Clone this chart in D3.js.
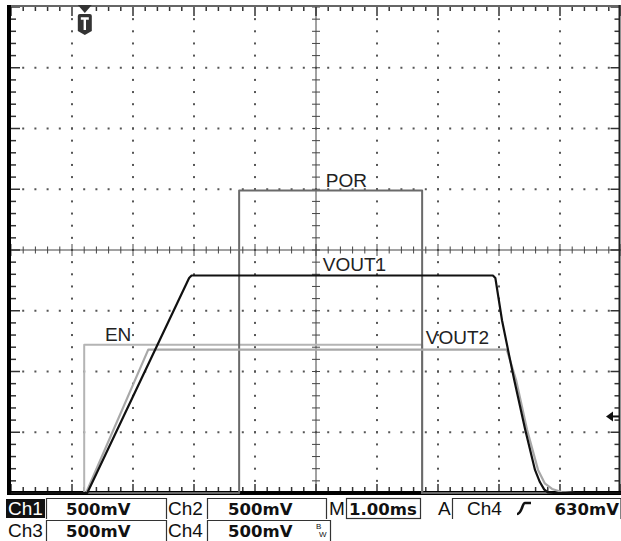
<!DOCTYPE html>
<html>
<head>
<meta charset="utf-8">
<script src="https://cdn.jsdelivr.net/npm/d3@7"></script>
<style>
  html, body { margin: 0; padding: 0; background: #fff; }
  svg { display: block; font-family: "Liberation Sans", Arial, sans-serif; }
</style>
</head>
<body>
<svg id="scope" width="621" height="541"></svg>
<script>
// Acquisition settings (horizontal: ms/div, vertical: V/div, 10 x 8 divisions)
const timePerDiv = 1.0;
const voltsPerDiv = 0.5;
const hDivs = 10;
const vDivs = 8;

// Trace samples: time in ms from left edge of screen, level in volts
const enTime    = [0, 1.20, 1.20, 6.74, 6.74, 10];
const enVolts   = [0, 0, 1.22, 1.22, 0, 0];

const porTime   = [0, 3.74, 3.74, 6.74, 6.74, 10];
const porVolts  = [0, 0, 2.49, 2.49, 0, 0];

const vout1Time  = [0, 1.25, 2.92, 2.96, 7.90, 7.94, 8.05, 8.18, 8.25, 8.43, 8.59, 8.67, 8.74, 8.80, 8.90, 10];
const vout1Volts = [0, 0, 1.77, 1.79, 1.79, 1.77, 1.42, 1.10, 0.93, 0.52, 0.19, 0.09, 0.03, 0.005, 0, 0];

const vout2Time  = [0, 1.23, 2.25, 8.12, 8.14, 8.28, 8.46, 8.64, 8.75, 8.87, 9.03, 9.25, 10];
const vout2Volts = [0, 0, 1.18, 1.18, 1.16, 0.93, 0.52, 0.19, 0.08, 0.033, 0.008, 0, 0];

// Trigger position (ms) and trigger level (V)
const triggerTime = 1.21;
const triggerLevel = 0.63;

// Status bar readouts
const chNames   = ["Ch1", "Ch2", "Ch3", "Ch4"];
const chScales  = ["500mV", "500mV", "500mV", "500mV"];
const timebase  = "1.00ms";
const trigSource = "Ch4";
const trigLevelText = "630mV";

const svg = d3.select("#scope");

const x = d3.scaleLinear().domain([0, hDivs * timePerDiv]).range([11, 621]);
const y = d3.scaleLinear().domain([0, vDivs * voltsPerDiv]).range([493, 7]);

const grid = svg.append("g");
const minorT = d3.range(0, hDivs * 5 + 1).map(i => i * timePerDiv / 5);
const minorV = d3.range(0, vDivs * 5 + 1).map(i => i * voltsPerDiv / 5);
const majorT = d3.range(0, hDivs + 1).map(i => i * timePerDiv);
const majorV = d3.range(0, vDivs + 1).map(i => i * voltsPerDiv);
const centerT = hDivs / 2 * timePerDiv;
const centerV = vDivs / 2 * voltsPerDiv;

// dotted graticule
majorT.slice(1, -1).filter(t => t !== centerT).forEach(t => {
  grid.selectAll(null).data(minorV.slice(1, -1)).enter().append("rect")
    .attr("x", x(t) - 1).attr("y", d => y(d) - 1)
    .attr("width", 2).attr("height", 2).attr("fill", "#555");
});
majorV.slice(1, -1).filter(v => v !== centerV).forEach(v => {
  grid.selectAll(null).data(minorT.slice(1, -1)).enter().append("rect")
    .attr("x", d => x(d) - 1).attr("y", y(v) - 1)
    .attr("width", 2).attr("height", 2).attr("fill", "#555");
});

// centre cross with minor ticks
grid.append("line").attr("x1", x(0)).attr("x2", x(hDivs * timePerDiv))
  .attr("y1", y(centerV)).attr("y2", y(centerV)).attr("stroke", "#444").attr("stroke-width", 1);
grid.append("line").attr("x1", x(centerT)).attr("x2", x(centerT))
  .attr("y1", y(0)).attr("y2", y(vDivs * voltsPerDiv)).attr("stroke", "#444").attr("stroke-width", 1);
grid.selectAll(null).data(minorT).enter().append("line")
  .attr("x1", d => x(d)).attr("x2", d => x(d))
  .attr("y1", d => y(centerV) - (Math.abs(d % timePerDiv) < 1e-9 ? 6 : 3.5))
  .attr("y2", d => y(centerV) + (Math.abs(d % timePerDiv) < 1e-9 ? 6 : 3.5))
  .attr("stroke", "#444").attr("stroke-width", 1);
grid.selectAll(null).data(minorV).enter().append("line")
  .attr("y1", d => y(d)).attr("y2", d => y(d))
  .attr("x1", x(centerT) - 4).attr("x2", x(centerT) + 4)
  .attr("stroke", "#444").attr("stroke-width", 1);

// edge ticks
const isMajorT = d => Math.abs(d / timePerDiv - Math.round(d / timePerDiv)) < 1e-9;
const isMajorV = d => Math.abs(d / voltsPerDiv - Math.round(d / voltsPerDiv)) < 1e-9;
grid.selectAll(null).data(minorT).enter().append("line")
  .attr("x1", d => x(d)).attr("x2", d => x(d))
  .attr("y1", y(vDivs * voltsPerDiv)).attr("y2", d => y(vDivs * voltsPerDiv) + (isMajorT(d) ? 9 : 4))
  .attr("stroke", "#333").attr("stroke-width", 1.5);
grid.selectAll(null).data(minorT).enter().append("line")
  .attr("x1", d => x(d)).attr("x2", d => x(d))
  .attr("y1", y(0)).attr("y2", d => y(0) - (isMajorT(d) ? 9 : 6))
  .attr("stroke", "#333").attr("stroke-width", 1.5);
grid.selectAll(null).data(minorV).enter().append("line")
  .attr("y1", d => y(d)).attr("y2", d => y(d))
  .attr("x1", x(0)).attr("x2", d => x(0) + (isMajorV(d) ? 9 : 5))
  .attr("stroke", "#333").attr("stroke-width", 1.5);
grid.selectAll(null).data(minorV).enter().append("line")
  .attr("y1", d => y(d)).attr("y2", d => y(d))
  .attr("x1", x(hDivs * timePerDiv) - 1.5).attr("x2", d => x(hDivs * timePerDiv) - 1.5 - (isMajorV(d) ? 9 : 5))
  .attr("stroke", "#333").attr("stroke-width", 1.5);

// screen frame
svg.append("line").attr("x1", x(0) - 2).attr("x2", x(hDivs * timePerDiv))
  .attr("y1", y(vDivs * voltsPerDiv) - 1).attr("y2", y(vDivs * voltsPerDiv) - 1)
  .attr("stroke", "#666").attr("stroke-width", 2);
svg.append("line").attr("x1", x(hDivs * timePerDiv) - 1.5).attr("x2", x(hDivs * timePerDiv) - 1.5)
  .attr("y1", y(vDivs * voltsPerDiv) - 2).attr("y2", y(0))
  .attr("stroke", "#222").attr("stroke-width", 2);
svg.append("line").attr("x1", x(0) - 2).attr("x2", x(0) - 2)
  .attr("y1", y(vDivs * voltsPerDiv) - 2).attr("y2", y(0) + 2)
  .attr("stroke", "#000").attr("stroke-width", 4);
svg.append("line").attr("x1", x(0) - 4).attr("x2", x(hDivs * timePerDiv))
  .attr("y1", y(0)).attr("y2", y(0))
  .attr("stroke", "#000").attr("stroke-width", 4);

// traces
const line = d3.line().x(d => x(d[0])).y(d => y(d[1]));
const trace = (ts, vs, color, w) =>
  svg.append("path").datum(d3.zip(ts, vs)).attr("d", line)
    .attr("fill", "none").attr("stroke", color).attr("stroke-width", w)
    .attr("stroke-linejoin", "round");
trace(enTime, enVolts, "#b4b4b4", 2);
trace(porTime, porVolts, "#6a6a6a", 2);
trace(vout2Time, vout2Volts, "#a8a8a8", 2.2);
trace(vout1Time, vout1Volts, "#111", 2.2);

// trace labels
const lbl = (t, v, s) => svg.append("text").attr("x", x(t)).attr("y", y(v))
  .attr("font-size", 19).attr("fill", "#222").text(s);
lbl(5.16, 2.52, "POR");
lbl(5.11, 1.83, "VOUT1");
lbl(1.54, 1.25, "EN");
lbl(6.80, 1.225, "VOUT2");

// trigger position marker
const tx = x(triggerTime);
svg.append("path")
  .attr("d", `M${tx - 7},${y(4) - 2} L${tx + 7},${y(4) - 2} L${tx},${y(4) + 6} Z`)
  .attr("fill", "#333");
svg.append("path")
  .attr("d", `M${tx - 7},${y(4) + 9} Q${tx - 7},${y(4) + 7} ${tx - 5},${y(4) + 7} L${tx + 5},${y(4) + 7} Q${tx + 7},${y(4) + 7} ${tx + 7},${y(4) + 9} L${tx + 7},${y(4) + 24} L${tx},${y(4) + 28} L${tx - 7},${y(4) + 24} Z`)
  .attr("fill", "#333");
svg.append("path")
  .attr("d", `M${tx - 4},${y(4) + 11.5} L${tx + 4},${y(4) + 11.5} M${tx},${y(4) + 11.5} L${tx},${y(4) + 23}`)
  .attr("stroke", "#fff").attr("stroke-width", 2.4).attr("fill", "none");

// trigger level marker
const ty = y(triggerLevel);
svg.append("path")
  .attr("d", `M${x(10) - 15},${ty} L${x(10) - 8},${ty - 5} L${x(10) - 8},${ty + 5} Z`)
  .attr("fill", "#111");
svg.append("line").attr("x1", x(10) - 9).attr("x2", x(10) - 2)
  .attr("y1", ty).attr("y2", ty).attr("stroke", "#111").attr("stroke-width", 2);

// status bar
const bar = svg.append("g");
const row1 = 515, row2 = 537;
const txt = (xx, yy, s, opts = {}) => bar.append("text").attr("x", xx).attr("y", yy)
  .attr("font-size", opts.size || 19).attr("font-weight", opts.bold ? "bold" : "normal")
  .style("font-family", opts.bold ? "'DejaVu Sans', Verdana, sans-serif" : "'Liberation Sans', Arial, sans-serif")
  .attr("fill", opts.fill || "#111").attr("text-anchor", opts.anchor || "start").text(s);
const box = (x0, y0, x1, y1) => bar.append("path")
  .attr("d", `M${x0},${y1} L${x0},${y0} L${x1},${y0} L${x1},${y1}`)
  .attr("fill", "none").attr("stroke", "#333").attr("stroke-width", 1.2);

bar.append("rect").attr("x", 6).attr("y", 499).attr("width", 39).attr("height", 19).attr("fill", "#111");
txt(8, row1, chNames[0], { fill: "#fff" });
box(46.5, 498.5, 166.5, 519);
txt(66, row1, chScales[0], { bold: true, size: 16.5 });
txt(168, row1, chNames[1]);
box(207.5, 498.5, 326.5, 519);
txt(228, row1, chScales[1], { bold: true, size: 16.5 });
txt(329, row1, "M");
bar.append("rect").attr("x", 346.5).attr("y", 498.5).attr("width", 74).attr("height", 20)
  .attr("fill", "none").attr("stroke", "#333").attr("stroke-width", 1.2);
txt(349, row1, timebase, { bold: true, size: 16.5 });
txt(438, row1, "A");
box(452.5, 498.5, 621, 519);
txt(467, row1, trigSource);
bar.append("path")
  .attr("d", "M517,514 C522,514 522,503 525,503 L531,503")
  .attr("fill", "none").attr("stroke", "#111").attr("stroke-width", 2.6);
txt(619, row1, trigLevelText, { bold: true, anchor: "end", size: 16.5 });

txt(8, row2, chNames[2]);
box(46.5, 520.5, 166.5, 541);
txt(66, row2, chScales[2], { bold: true, size: 16.5 });
txt(168, row2, chNames[3]);
box(207.5, 520.5, 330.5, 541);
txt(228, row2, chScales[3], { bold: true, size: 16.5 });
txt(316, 529, "B", { size: 8 });
txt(319, 537, "W", { size: 8 });
</script>
</body>
</html>
